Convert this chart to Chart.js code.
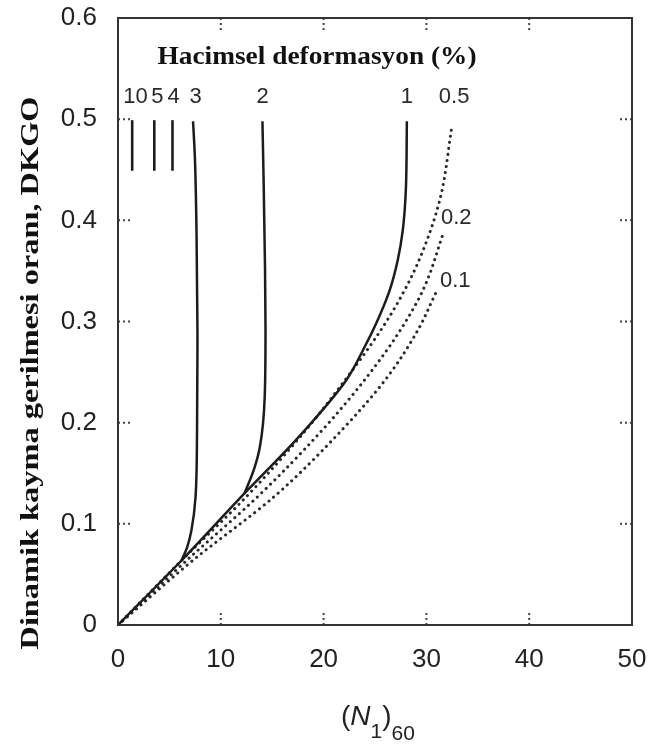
<!DOCTYPE html>
<html>
<head>
<meta charset="utf-8">
<script src="https://cdn.jsdelivr.net/npm/chart.js"></script>
<style>
  html, body { margin: 0; padding: 0; background: #fff; }
  canvas { display: block; }
</style>
</head>
<body>
<canvas id="csr-chart" width="656" height="747"></canvas>
<script>
// (N1)60 vs. cyclic stress ratio, one curve per volumetric strain level
const curve1N = [0, 6.2, 12.3, 17.5, 22.2, 24.0, 25.2, 26.4, 27.2, 27.7, 28.0, 28.1];
const curve1R = [0, 0.064, 0.130, 0.185, 0.242, 0.275, 0.300, 0.330, 0.360, 0.390, 0.430, 0.498];

const curve2N = [12.3, 13.2, 13.8, 14.27, 14.35, 14.3, 14.17, 14.05];
const curve2R = [0.130, 0.153, 0.176, 0.225, 0.292, 0.354, 0.437, 0.498];

const curve3N = [6.2, 6.73, 7.15, 7.54, 7.69, 7.73, 7.64, 7.48, 7.3];
const curve3R = [0.064, 0.077, 0.094, 0.126, 0.193, 0.289, 0.387, 0.462, 0.498];

const curve05N = [0, 6.2, 12.5, 18.3, 22.3, 25.6, 27.4, 29.3, 31.3, 32.5];
const curve05R = [0, 0.064, 0.127, 0.193, 0.245, 0.292, 0.322, 0.361, 0.420, 0.494];

const curve02N = [0, 6.7, 13.6, 19.9, 24.2, 27.5, 29.8, 31.7];
const curve02R = [0, 0.064, 0.127, 0.193, 0.245, 0.292, 0.334, 0.389];

const curve01N = [0, 7.3, 15.2, 21.8, 26.2, 29.2, 30.9];
const curve01R = [0, 0.064, 0.127, 0.193, 0.245, 0.292, 0.328];

// short stubs for 10, 5 and 4 %
const stubN = [1.38, 3.53, 5.3];
const stubR = [0.449, 0.499];

const curveLabels = ['10', '5', '4', '3', '2', '1', '0.5', '0.2', '0.1'];
const labelN = [1.7, 3.84, 5.4, 7.54, 14.06, 28.1, 32.7, 32.9, 32.8];
const labelR = [0.522, 0.522, 0.522, 0.522, 0.522, 0.522, 0.522, 0.402, 0.340];

const xTicks = [0, 10, 20, 30, 40, 50];
const yTicks = [0, 0.1, 0.2, 0.3, 0.4, 0.5, 0.6];

const pts = (xs, ys) => xs.map((x, i) => ({ x: x, y: ys[i] }));

// every curve rises steadily in y, so spline it along y
const solid = (data) => ({
  data: data,
  indexAxis: 'y',
  showLine: true,
  borderColor: '#1c1c1c',
  borderWidth: 2.5,
  pointRadius: 0,
  cubicInterpolationMode: 'monotone',
  fill: false
});

const dotted = (data) => ({
  data: data,
  indexAxis: 'y',
  showLine: true,
  borderColor: '#2a2a2a',
  borderWidth: 3,
  borderDash: [0.1, 6],
  borderCapStyle: 'round',
  pointRadius: 0,
  cubicInterpolationMode: 'monotone',
  fill: false
});

const datasets = [
  solid(pts(curve1N, curve1R)),
  solid(pts(curve2N, curve2R)),
  solid(pts(curve3N, curve3R)),
  dotted(pts(curve05N, curve05R)),
  dotted(pts(curve02N, curve02R)),
  dotted(pts(curve01N, curve01R))
];
stubN.forEach(n => {
  const d = solid(pts([n, n], stubR));
  d.borderWidth = 2.6;
  datasets.push(d);
});

// draw text squeezed/stretched to a given length
function fitText(ctx, text, cx, cy, len, rotate) {
  const w = ctx.measureText(text).width;
  ctx.save();
  ctx.translate(cx, cy);
  if (rotate) ctx.rotate(-Math.PI / 2);
  ctx.scale(len / w, 1);
  ctx.textAlign = 'center';
  ctx.textBaseline = 'middle';
  ctx.fillText(text, 0, 0);
  ctx.restore();
}

const frame = {
  id: 'frame',
  beforeDatasetsDraw(chart) {
    const { ctx, chartArea: a, scales: { x, y } } = chart;
    ctx.save();
    ctx.strokeStyle = '#444';
    ctx.lineWidth = 2;
    ctx.setLineDash([2, 3]);
    xTicks.slice(1, -1).forEach(v => {
      const px = x.getPixelForValue(v);
      ctx.beginPath();
      ctx.moveTo(px, a.bottom); ctx.lineTo(px, a.bottom - 13);
      ctx.moveTo(px, a.top); ctx.lineTo(px, a.top + 13);
      ctx.stroke();
    });
    yTicks.slice(1, -1).forEach(v => {
      const py = y.getPixelForValue(v);
      ctx.beginPath();
      ctx.moveTo(a.left, py); ctx.lineTo(a.left + 13, py);
      ctx.moveTo(a.right, py); ctx.lineTo(a.right - 13, py);
      ctx.stroke();
    });
    ctx.restore();
  },
  afterDraw(chart) {
    const { ctx, chartArea: a, scales: { x, y } } = chart;
    ctx.save();
    ctx.strokeStyle = '#333';
    ctx.lineWidth = 2;
    ctx.strokeRect(a.left, a.top, a.right - a.left, a.bottom - a.top);

    // strain labels
    ctx.fillStyle = '#2a2a2a';
    ctx.font = '22px "Liberation Sans", Arial, sans-serif';
    ctx.textAlign = 'center';
    ctx.textBaseline = 'middle';
    curveLabels.forEach((t, i) => {
      ctx.fillText(t, x.getPixelForValue(labelN[i]), y.getPixelForValue(labelR[i]));
    });

    // legend heading
    ctx.fillStyle = '#111';
    ctx.font = 'bold 26px "Liberation Serif", "Times New Roman", serif';
    fitText(ctx, 'Hacimsel deformasyon (%)', 317, 57, 319, false);

    // y axis title
    ctx.font = 'bold 26px "Liberation Serif", "Times New Roman", serif';
    fitText(ctx, 'Dinamik kayma gerilmesi oranı, DKGO', 31, 373, 553, true);

    // x axis title: (N1)60
    ctx.fillStyle = '#222';
    ctx.textAlign = 'left';
    ctx.textBaseline = 'alphabetic';
    const big = '28px "Liberation Sans", Arial, sans-serif';
    const bigIt = 'italic 28px "Liberation Sans", Arial, sans-serif';
    const sub = '21px "Liberation Sans", Arial, sans-serif';
    const parts = [
      ['(', big, 0], ['N', bigIt, 0], ['1', sub, 13], [')', big, 0], ['60', sub, 15]
    ];
    let total = 0;
    parts.forEach(p => { ctx.font = p[1]; total += ctx.measureText(p[0]).width; });
    let cx = 378 - total / 2;
    parts.forEach(p => {
      ctx.font = p[1];
      ctx.fillText(p[0], cx, 725 + p[2]);
      cx += ctx.measureText(p[0]).width;
    });
    ctx.restore();
  }
};

new Chart(document.getElementById('csr-chart'), {
  type: 'scatter',
  data: { datasets: datasets },
  options: {
    responsive: false,
    animation: false,
    layout: { padding: { top: 18, right: 24, left: 0, bottom: 0 } },
    plugins: { legend: { display: false }, tooltip: { enabled: false } },
    scales: {
      x: {
        type: 'linear',
        min: 0,
        max: 50,
        afterFit: s => { s.height = 122; s.paddingLeft = 0; s.paddingRight = 0; },
        afterBuildTicks: s => { s.ticks = xTicks.map(v => ({ value: v })); },
        grid: { display: false, drawTicks: false },
        border: { display: false },
        ticks: {
          color: '#222',
          padding: 19,
          font: { family: '"Liberation Sans", Arial, sans-serif', size: 26 },
          callback: v => String(v)
        }
      },
      y: {
        type: 'linear',
        min: 0,
        max: 0.6,
        afterFit: s => { s.width = 118; s.paddingTop = 0; s.paddingBottom = 0; },
        afterBuildTicks: s => { s.ticks = yTicks.map(v => ({ value: v })); },
        grid: { display: false, drawTicks: false },
        border: { display: false },
        ticks: {
          color: '#222',
          padding: 21,
          font: { family: '"Liberation Sans", Arial, sans-serif', size: 26 },
          callback: v => (v === 0 ? '0' : v.toFixed(1))
        }
      }
    }
  },
  plugins: [frame]
});
</script>
</body>
</html>
